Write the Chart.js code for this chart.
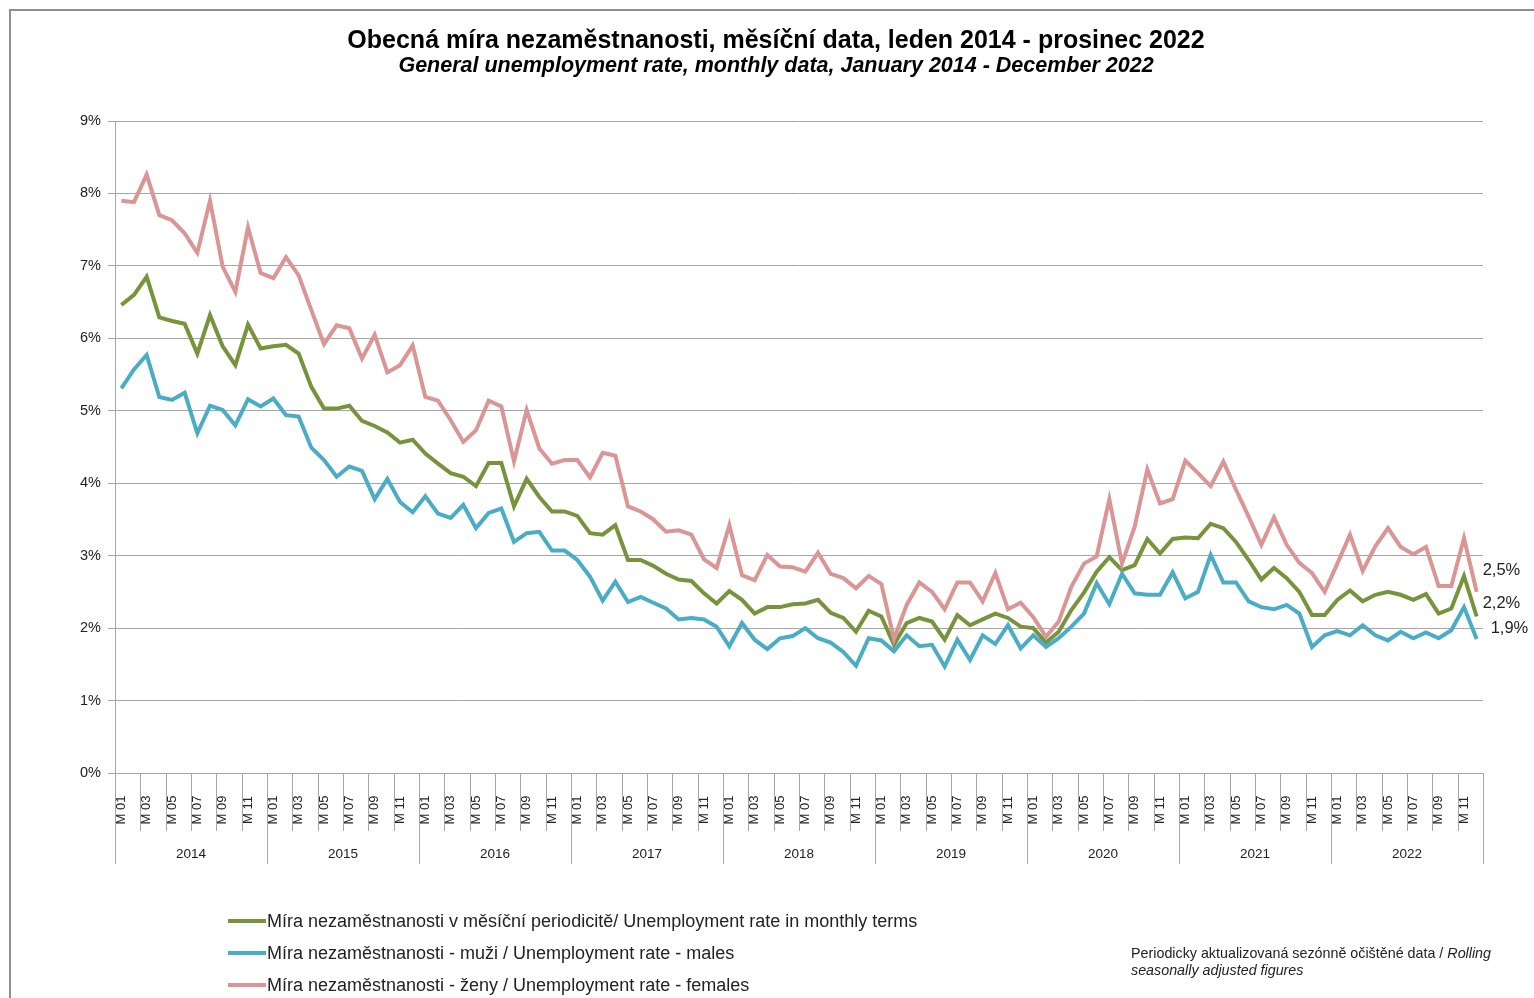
<!DOCTYPE html>
<html>
<head>
<meta charset="utf-8">
<script src="https://cdn.jsdelivr.net/npm/chart.js@4.4.1/dist/chart.umd.min.js"></script>
<style>
  body { margin: 0; background: #fff; font-family: "Liberation Sans", Arial, sans-serif; }
  #wrap { position: relative; width: 1534px; height: 998px; overflow: hidden; }
  #frame { position: absolute; left: 9px; top: 9px; width: 1600px; height: 1100px; border: 2px solid #8f8f8f; }
  canvas { position: absolute; left: 0; top: 0; }
  .title { position: absolute; left: 0; width: 1552px; text-align: center; color: #000; font-weight: bold; }
  #t1 { top: 24px; font-size: 25px; line-height: 30px; }
  #t2 { top: 52px; font-size: 21.5px; line-height: 26px; font-style: italic; }
  #legend { position: absolute; left: 228px; top: 909px; font-size: 18px; color: #222; }
  #legend .row { height: 32px; line-height: 24px; white-space: nowrap; }
  #legend .sw { display: inline-block; width: 38px; height: 4px; vertical-align: middle; margin-right: 1px; position: relative; top: -1px; }
  #note { position: absolute; left: 1131px; top: 945px; font-size: 14.3px; line-height: 17px; color: #222; }
</style>
</head>
<body>
<div id="wrap">
  <div id="frame"></div>
  <canvas id="chart" width="1534" height="998"></canvas>
  <div class="title" id="t1">Obecná míra nezaměstnanosti, měsíční data, leden 2014 - prosinec 2022</div>
  <div class="title" id="t2">General unemployment rate, monthly data, January 2014 - December 2022</div>
  <div id="legend"></div>
  <div id="note">Periodicky aktualizovaná sezónně očištěné data / <i>Rolling</i><br><i>seasonally adjusted figures</i></div>
</div>
<script>
const years = ['2014', '2015', '2016', '2017', '2018', '2019', '2020', '2021', '2022'];
const months = ['M 01', 'M 02', 'M 03', 'M 04', 'M 05', 'M 06', 'M 07', 'M 08', 'M 09', 'M 10', 'M 11', 'M 12'];
const yTicks = ['0%', '1%', '2%', '3%', '4%', '5%', '6%', '7%', '8%', '9%'];

const seriesNames = [
    'Míra nezaměstnanosti v měsíční periodicitě/ Unemployment rate in monthly terms',
    'Míra nezaměstnanosti - muži / Unemployment rate - males',
    'Míra nezaměstnanosti - ženy / Unemployment rate - females'
];
const endLabels = ['2,2%', '1,9%', '2,5%'];

// total
const rateTotal = [
    6.46, 6.60, 6.85, 6.29, 6.24, 6.20, 5.79, 6.32, 5.89, 5.63, 6.19, 5.86,
    5.89, 5.91, 5.79, 5.33, 5.03, 5.03, 5.07, 4.86, 4.79, 4.70, 4.56, 4.60,
    4.41, 4.27, 4.14, 4.09, 3.96, 4.28, 4.28, 3.68, 4.06, 3.81, 3.61, 3.61,
    3.55, 3.31, 3.29, 3.42, 2.94, 2.94, 2.86, 2.75, 2.67, 2.65, 2.48, 2.34,
    2.51, 2.39, 2.20, 2.29, 2.29, 2.33, 2.34, 2.39, 2.21, 2.14, 1.95, 2.24,
    2.16, 1.77, 2.07, 2.14, 2.09, 1.84, 2.18, 2.04, 2.12, 2.20, 2.14, 2.02,
    2.00, 1.80, 1.95, 2.25, 2.49, 2.78, 2.98, 2.80, 2.87, 3.23, 3.03, 3.23,
    3.25, 3.24, 3.44, 3.38, 3.19, 2.94, 2.67, 2.83, 2.69, 2.50, 2.18, 2.18,
    2.39, 2.52, 2.37, 2.46, 2.50, 2.46, 2.39, 2.47, 2.20, 2.27, 2.72, 2.16
];
// males
const rateMales = [
    5.31, 5.57, 5.77, 5.19, 5.15, 5.25, 4.69, 5.07, 5.01, 4.80, 5.16, 5.06,
    5.17, 4.94, 4.92, 4.49, 4.32, 4.09, 4.23, 4.17, 3.78, 4.06, 3.74, 3.60,
    3.82, 3.58, 3.52, 3.70, 3.38, 3.59, 3.65, 3.19, 3.31, 3.33, 3.07, 3.07,
    2.94, 2.71, 2.38, 2.64, 2.36, 2.43, 2.35, 2.27, 2.12, 2.14, 2.12, 2.02,
    1.75, 2.07, 1.84, 1.71, 1.86, 1.89, 2.00, 1.86, 1.80, 1.67, 1.48, 1.86,
    1.83, 1.68, 1.90, 1.75, 1.77, 1.47, 1.84, 1.56, 1.90, 1.78, 2.04, 1.72,
    1.90, 1.74, 1.86, 2.02, 2.20, 2.62, 2.33, 2.75, 2.48, 2.46, 2.46, 2.77,
    2.41, 2.50, 3.01, 2.63, 2.63, 2.37, 2.29, 2.26, 2.32, 2.20, 1.74, 1.90,
    1.96, 1.90, 2.04, 1.90, 1.83, 1.95, 1.86, 1.94, 1.86, 1.97, 2.29, 1.85
];
// females
const rateFemales = [
    7.90, 7.88, 8.26, 7.70, 7.63, 7.45, 7.18, 7.90, 6.99, 6.64, 7.53, 6.90,
    6.83, 7.12, 6.87, 6.39, 5.92, 6.18, 6.14, 5.72, 6.05, 5.53, 5.63, 5.90,
    5.19, 5.14, 4.87, 4.57, 4.73, 5.14, 5.06, 4.30, 5.01, 4.48, 4.27, 4.32,
    4.32, 4.08, 4.42, 4.38, 3.68, 3.61, 3.50, 3.33, 3.35, 3.29, 2.95, 2.83,
    3.42, 2.73, 2.66, 3.01, 2.85, 2.84, 2.78, 3.04, 2.75, 2.69, 2.55, 2.72,
    2.61, 1.85, 2.32, 2.63, 2.50, 2.26, 2.63, 2.63, 2.37, 2.76, 2.26, 2.35,
    2.15, 1.88, 2.09, 2.57, 2.89, 2.99, 3.78, 2.89, 3.40, 4.19, 3.72, 3.78,
    4.31, 4.14, 3.96, 4.30, 3.91, 3.54, 3.15, 3.53, 3.15, 2.90, 2.76, 2.50,
    2.89, 3.29, 2.79, 3.13, 3.38, 3.12, 3.02, 3.12, 2.58, 2.58, 3.24, 2.50
];

const colors = ['#77933c', '#4bacc6', '#d99694'];
const gridColor = '#a6a6a6';
const fontFamily = '"Liberation Sans", Arial, sans-serif';

const labels = [];
years.forEach(y => months.forEach(m => labels.push(m)));

// legend as plain html
const legendEl = document.getElementById('legend');
seriesNames.forEach((name, i) => {
    const row = document.createElement('div');
    row.className = 'row';
    row.innerHTML = '<span class="sw" style="background:' + colors[i] + '"></span>' + name;
    legendEl.appendChild(row);
});

// two-level category axis (months / years) drawn under the plot
const yearAxis = {
    id: 'yearAxis',
    afterDraw(chart) {
        const { ctx, chartArea } = chart;
        const x = chart.scales.x;
        const n = labels.length;
        const half = (x.getPixelForValue(1) - x.getPixelForValue(0)) / 2;
        const edge = i => (i < n ? x.getPixelForValue(i) - half : x.getPixelForValue(n - 1) + half);
        const bottom = chartArea.bottom;

        ctx.save();
        ctx.strokeStyle = gridColor;
        ctx.lineWidth = 1;
        for (let i = 0; i <= n; i += 2) {
            const px = Math.round(edge(i)) + 0.5;
            const len = (i % 12 === 0) ? 91 : 58;
            ctx.beginPath();
            ctx.moveTo(px, bottom);
            ctx.lineTo(px, bottom + len);
            ctx.stroke();
        }

        ctx.fillStyle = '#222';
        ctx.font = '13px ' + fontFamily;
        ctx.textAlign = 'center';
        ctx.textBaseline = 'middle';
        for (let i = 0; i < n; i += 2) {
            ctx.save();
            ctx.translate(x.getPixelForValue(i), bottom + 37);
            ctx.rotate(-Math.PI / 2);
            ctx.fillText(labels[i], 0, 0);
            ctx.restore();
        }

        ctx.font = '13.5px ' + fontFamily;
        years.forEach((yr, k) => {
            const cx = (edge(k * 12) + edge(k * 12 + 12)) / 2;
            ctx.fillText(yr, cx, bottom + 81);
        });
        ctx.restore();
    }
};

// value labels at the last month
const endValues = {
    id: 'endValues',
    afterDatasetsDraw(chart) {
        const { ctx } = chart;
        const offsets = [[6, -13], [14, -11], [6, -21]];
        ctx.save();
        ctx.fillStyle = '#222';
        ctx.font = '16.5px ' + fontFamily;
        ctx.textAlign = 'left';
        ctx.textBaseline = 'middle';
        chart.data.datasets.forEach((ds, i) => {
            const meta = chart.getDatasetMeta(i);
            const pt = meta.data[meta.data.length - 1];
            ctx.fillText(endLabels[i], pt.x + offsets[i][0], pt.y + offsets[i][1]);
        });
        ctx.restore();
    }
};

const ctx = document.getElementById('chart').getContext('2d');
new Chart(ctx, {
    type: 'line',
    data: {
        labels: labels,
        datasets: [rateTotal, rateMales, rateFemales].map((values, i) => ({
            label: seriesNames[i],
            data: values,
            borderColor: colors[i],
            backgroundColor: colors[i],
            borderWidth: 4,
            pointRadius: 0,
            tension: 0,
            order: 3 - i,
        })),
    },
    options: {
        responsive: false,
        devicePixelRatio: 1,
        animation: false,
        layout: {
            padding: { left: 0, right: 51, top: 121, bottom: 225 }
        },
        plugins: {
            legend: { display: false },
            title: { display: false },
            tooltip: { enabled: false },
        },
        scales: {
            x: {
                offset: true,
                grid: { display: false },
                ticks: { display: false },
                border: { display: true, color: gridColor, width: 1 },
                afterFit(scale) { scale.height = 0; },
            },
            y: {
                min: 0,
                max: 9,
                ticks: {
                    stepSize: 1,
                    padding: 7,
                    color: '#222',
                    font: { family: fontFamily, size: 14.5 },
                    callback: (v) => yTicks[v],
                },
                grid: { color: gridColor, lineWidth: 1, tickLength: 7 },
                border: { display: true, color: gridColor, width: 1 },
                afterFit(scale) { scale.width = 115; },
            },
        },
    },
    plugins: [yearAxis, endValues],
});
</script>
</body>
</html>
